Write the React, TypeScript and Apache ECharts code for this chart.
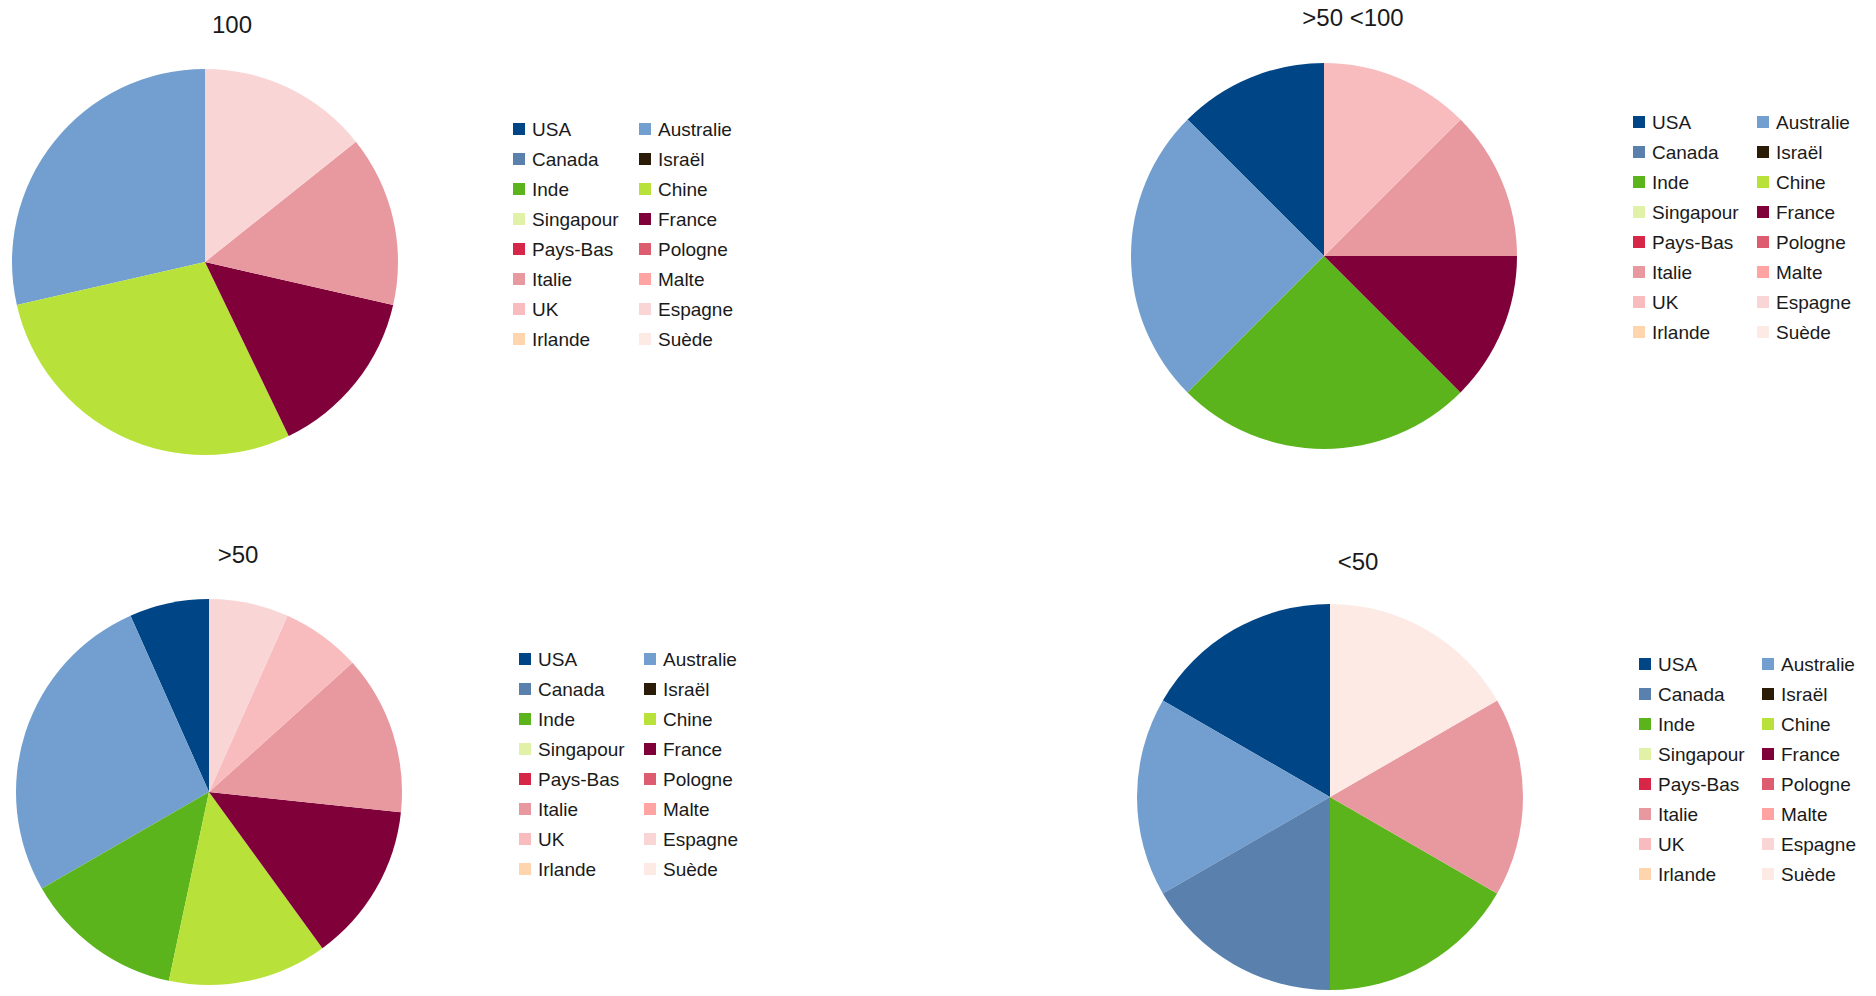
import React, { useEffect, useRef } from "react";
import * as echarts from "echarts";

// ---- Data ----
const countries = [
  "USA", "Australie", "Canada", "Israël", "Inde", "Chine", "Singapour", "France",
  "Pays-Bas", "Pologne", "Italie", "Malte", "UK", "Espagne", "Irlande", "Suède",
];
const colors = [
  "#004586", "#729fcf", "#5a81ad", "#2b1c08", "#5bb41b", "#b8e23a", "#e2f1a8", "#80003a",
  "#d62748", "#de5c70", "#e8999f", "#ffa3a3", "#f9bcbe", "#f9d5d6", "#fed5ad", "#fdeae5",
];
const titles = ["100", ">50 <100", ">50", "<50"];
const values100 = [0, 2, 0, 0, 0, 2, 0, 1, 0, 0, 1, 0, 0, 1, 0, 0];
const values50to100 = [1, 2, 0, 0, 2, 0, 0, 1, 0, 0, 1, 0, 1, 0, 0, 0];
const valuesOver50 = [1, 4, 0, 0, 2, 2, 0, 2, 0, 0, 2, 0, 1, 1, 0, 0];
const valuesUnder50 = [1, 1, 1, 0, 1, 0, 0, 0, 0, 0, 1, 0, 0, 0, 0, 1];
const seriesValues = [values100, values50to100, valuesOver50, valuesUnder50];

// ---- Layout ----
const layout = [
  { center: [205, 262], titleX: 232, titleTop: 12, legendX: [513, 639], legendTop: 119 },
  { center: [1324, 256], titleX: 1353, titleTop: 5, legendX: [1633, 1757], legendTop: 112 },
  { center: [209, 792], titleX: 238, titleTop: 542, legendX: [519, 644], legendTop: 649 },
  { center: [1330, 797], titleX: 1358, titleTop: 549, legendX: [1639, 1762], legendTop: 654 },
];

const FONT = "Liberation Sans, Arial, sans-serif";
const TEXT = "#1a1a1a";

export default function App() {
  const ref = useRef<HTMLDivElement>(null);

  useEffect(() => {
    if (!ref.current) return;
    const chart = echarts.init(ref.current, null, { renderer: "svg" });

    const col1 = countries.filter((_, i) => i % 2 === 0);
    const col2 = countries.filter((_, i) => i % 2 === 1);

    const title: any[] = [];
    const legend: any[] = [];
    const series: any[] = [];

    layout.forEach((L, k) => {
      title.push({
        text: titles[k],
        left: L.titleX,
        top: L.titleTop,
        textAlign: "center",
        padding: 0,
        textStyle: { fontFamily: FONT, fontSize: 24, fontWeight: "normal", color: TEXT },
      });
      [col1, col2].forEach((names, c) => {
        legend.push({
          data: names,
          orient: "vertical",
          left: L.legendX[c],
          top: L.legendTop,
          padding: 0,
          itemWidth: 12,
          itemHeight: 12,
          itemGap: 10,
          icon: "rect",
          selectedMode: false,
          textStyle: {
            fontFamily: FONT,
            fontSize: 19,
            lineHeight: 20,
            color: TEXT,
            padding: [0, 0, 0, 2],
          },
        });
      });
      series.push({
        type: "pie",
        name: titles[k],
        center: L.center,
        radius: 193,
        startAngle: 90,
        clockwise: false,
        silent: true,
        label: { show: false },
        labelLine: { show: false },
        emphasis: { disabled: true },
        itemStyle: { borderWidth: 0 },
        data: countries.map((name, i) => ({
          name,
          value: seriesValues[k][i],
          itemStyle: { color: colors[i] },
        })),
      });
    });

    chart.setOption({
      animation: false,
      backgroundColor: "#ffffff",
      title,
      legend,
      series,
    });

    return () => chart.dispose();
  }, []);

  return (
    <div
      ref={ref}
      style={{ position: "fixed", left: 0, top: 0, width: 1876, height: 996, background: "#fff" }}
    />
  );
}
